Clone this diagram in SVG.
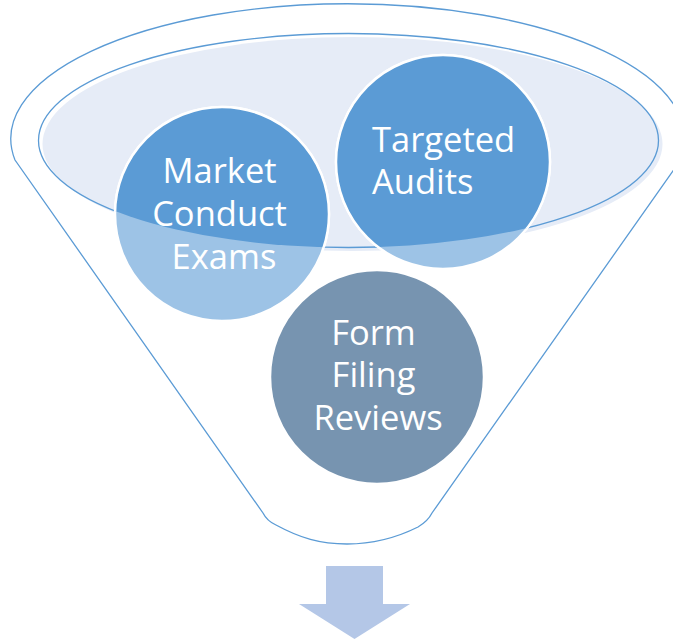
<svg xmlns="http://www.w3.org/2000/svg" width="673" height="643" viewBox="0 0 673 643">
  <defs>
    <clipPath id="inner">
      <ellipse cx="348.5" cy="140.5" rx="310" ry="107"/>
    </clipPath>
    <style>
      .outline { fill: none; stroke: #5b9bd5; stroke-width: 1.3; }
      .light { fill: #9dc3e6; stroke: #ffffff; stroke-width: 2.5; }
      .dark { fill: #5b9bd5; stroke: #ffffff; stroke-width: 2.5; }
      .slate { fill: #7794b0; stroke: #ffffff; stroke-width: 2.5; }
      .label { font-family: "Open Sans", "Liberation Sans", sans-serif; font-size: 34.5px; fill: #ffffff; }
    </style>
  </defs>
  <rect width="673" height="643" fill="#ffffff"/>
  <g id="funnel">
    <path class="outline" d="M 15,160 A 337 135 0 1 1 680.6,160 L 432,513 Q 428,521 418,527 C 396,538 374,544 347,544 C 320,544 300,538 276,525 Q 267,521 263,513 Z"/>
    <ellipse cx="352.5" cy="144" rx="310" ry="107" fill="#e6ecf7"/>
    <ellipse class="outline" cx="348.5" cy="140.5" rx="310" ry="107"/>
  </g>
  <g id="market-conduct-exams">
    <circle class="light" cx="222" cy="214" r="107"/>
    <circle class="dark" cx="222" cy="214" r="107" clip-path="url(#inner)"/>
    <text class="label" text-anchor="middle">
      <tspan x="224" y="183">Market</tspan>
      <tspan x="224" y="226">Conduct</tspan>
      <tspan x="224" y="269">Exams</tspan>
    </text>
  </g>
  <g id="targeted-audits">
    <circle class="light" cx="443" cy="162" r="107"/>
    <circle class="dark" cx="443" cy="162" r="107" clip-path="url(#inner)"/>
    <text class="label">
      <tspan x="372" y="152">Targeted</tspan>
      <tspan x="372" y="194">Audits</tspan>
    </text>
  </g>
  <g id="form-filing-reviews">
    <circle class="slate" cx="377" cy="377" r="107"/>
    <text class="label" text-anchor="middle">
      <tspan x="378" y="345">Form</tspan>
      <tspan x="378" y="387">Filing</tspan>
      <tspan x="378" y="430">Reviews</tspan>
    </text>
  </g>
  <g id="connectors">
    <polygon points="326,566 383,566 383,604 410,604 354.5,639 299,604 326,604" fill="#b4c7e7"/>
  </g>
</svg>
